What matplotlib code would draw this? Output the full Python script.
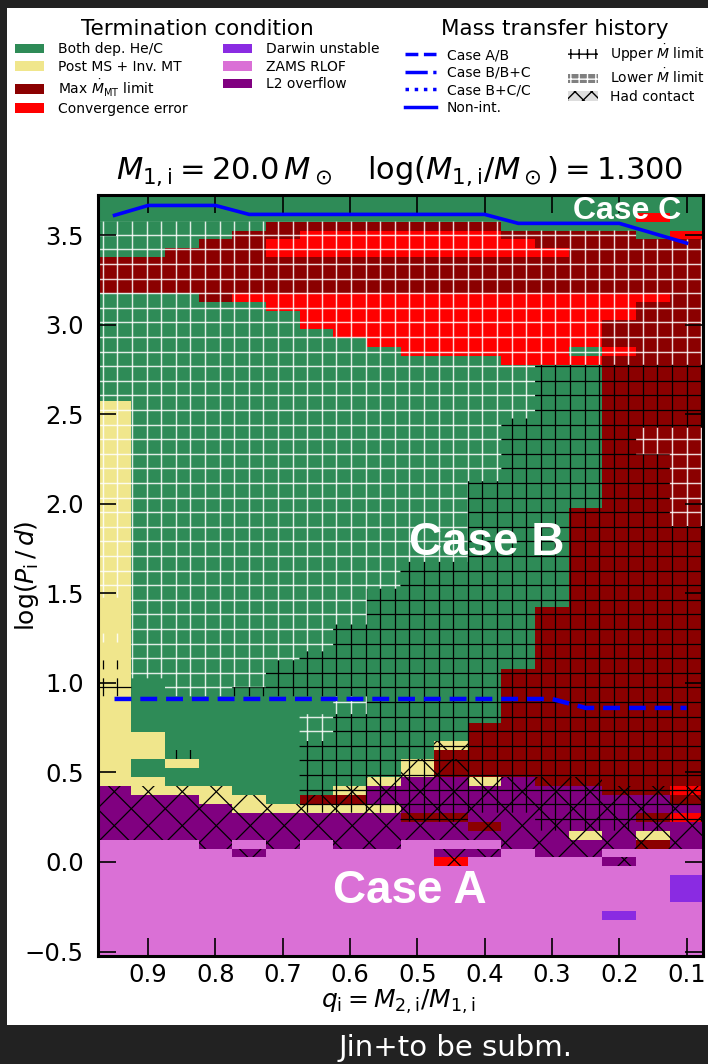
import numpy as np
import matplotlib.pyplot as plt
from matplotlib.colors import ListedColormap, BoundaryNorm
from matplotlib.patches import Patch, Rectangle
from matplotlib.lines import Line2D
from matplotlib.path import Path
from matplotlib.collections import LineCollection
from matplotlib.transforms import IdentityTransform

# grid columns (mass ratio, left to right on the inverted axis) and rows (log period, top to bottom)
q_vals = np.array([0.95, 0.90, 0.85, 0.80, 0.75, 0.70, 0.65, 0.60, 0.55,
                   0.50, 0.45, 0.40, 0.35, 0.30, 0.25, 0.20, 0.15, 0.10])
logp_vals = np.round(np.linspace(3.70, -0.50, 85), 2)

# termination condition per cell
# G both dep. He/C, Y post MS + inv. MT, D max Mdot, R convergence error,
# V Darwin unstable, P ZAMS RLOF, U L2 overflow
term_codes = 'GYDRVPU'
term_rows = (
    ['GGGGGGGGGGGGGGGGGG',   # 3.70
     'GGGGGGGGGGGGGGGGGG',   # 3.65
     'GGGGGGGGGGGGGGGGRG',   # 3.60
     'GGGGGDDDDDDDGGGGGG',   # 3.55
     'GGGGDDRRRRRRDDDDGR',   # 3.50
     'GGGDDRRRRRRRRDDDDD',   # 3.45
     'GGDDDRRRRRRRRRDDDD']   # 3.40
    + ['DDDDDDDDDDDDDDDDDD'] * 4   # 3.35 - 3.20
    + ['GGGDRRRRRRRRRRRRRD',   # 3.15
       'GGGGGRRRRRRRRRRRDD',   # 3.10
       'GGGGGGRRRRRRRRRRDD',   # 3.05
       'GGGGGGRRRRRRRRRDDD',   # 3.00
       'GGGGGGGRRRRRRRRDDD',   # 2.95
       'GGGGGGGGRRRRRRRDDD',   # 2.90
       'GGGGGGGGGRRRRRGRDD',   # 2.85
       'GGGGGGGGGGGGRRRDDD']   # 2.80
    + ['GGGGGGGGGGGGGGGDDD'] * 4    # 2.75 - 2.60
    + ['YGGGGGGGGGGGGGGDDD'] * 12   # 2.55 - 2.00
    + ['YGGGGGGGGGGGGGDDDD'] * 11   # 1.95 - 1.45
    + ['YGGGGGGGGGGGGDDDDD'] * 7    # 1.40 - 1.10
    + ['YGGGGGGGGGGGDDDDDD'] * 6    # 1.05 - 0.80
    + ['YGGGGGGGGGGDDDDDDD',   # 0.75
       'YYGGGGGGGGGDDDDDDD',   # 0.70
       'YYGGGGGGGGYDDDDDDD',   # 0.65
       'YYGGGGGGGGDDDDDDDD',   # 0.60
       'YGYGGGGGGYDDDDDDDD',   # 0.55
       'YGGGGGGGGYDDDDDDDD',   # 0.50
       'YYGGGGGGYUUYUDDDDD',   # 0.45
       'UYYYGGGYUUUUUUUDDR',   # 0.40
       'UUUYYGDDUUUUUUUUUD',   # 0.35
       'UUUUYYYYYUUUUUUUUU',   # 0.30
       'UUUUUUUUUDDUUUUUDR',   # 0.25
       'UUUUUUUUUUUDUUUUUU',   # 0.20
       'UUUUUUUUUUUUUUYUYU',   # 0.15
       'PPPUPUPUUPPPUUUUDU',   # 0.10
       'PPPPUPPPPPUUPUUPPP',   # 0.05
       'PPPPPPPPPPRPPPPUPP',   # 0.00
       'PPPPPPPPPPPPPPPPPP']   # -0.05
    + ['PPPPPPPPPPPPPPPPPV'] * 3    # -0.10 - -0.20
    + ['PPPPPPPPPPPPPPPPPP',   # -0.25
       'PPPPPPPPPPPPPPPVPP']   # -0.30
    + ['PPPPPPPPPPPPPPPPPP'] * 4    # -0.35 - -0.50
)

# Mdot flag per cell: w lower limit (white cross), b upper limit (black cross)
mdot_rows = (
    ['..................'] * 3                       # 3.70 - 3.60
    + ['wwwwwwwwwwww......',                         # 3.55
       'wwwwwwwwwwwwwwww..']                         # 3.50
    + ['wwwwwwwwwwwwwwwwww'] * 14                    # 3.45 - 2.80
    + ['wwwwwwwwwwwwwbbbbb'] * 6                     # 2.75 - 2.50
    + ['wwwwwwwwwwwwbbbbbb']                         # 2.45
    + ['wwwwwwwwwwwwbbbbww'] * 3                     # 2.40 - 2.30
    + ['wwwwwwwwwwwwbbbbbw'] * 3                     # 2.25 - 2.15
    + ['wwwwwwwwwwwbbbbbbw'] * 5                     # 2.10 - 1.90
    + ['wwwwwwwwwwwbbbbbbb'] * 4                     # 1.85 - 1.70
    + ['wwwwwwwwwbbbbbbbbb'] * 3                     # 1.65 - 1.55
    + ['wwwwwwwwbbbbbbbbbb']                         # 1.50
    + ['.wwwwwwwbbbbbbbbbb'] * 3                     # 1.45 - 1.35
    + ['.wwwwwwbbbbbbbbbbb',                         # 1.30
       'wwwwwwwbbbbbbbbbbb',                         # 1.25
       '.wwwwwwbbbbbbbbbbb',                         # 1.20
       '.wwwwwbbbbbbbbbbbb',                         # 1.15
       'bwwwwbbbbbbbbbbbbb',                         # 1.10
       '.wwwwbbbbbbbbbbbbb',                         # 1.05
       'b.wwwbbbbbbbbbbbbb',                         # 1.00
       'b.wwbbbbbbbbbbbbbb']                         # 0.95
    + ['.......wbbbbbbbbbb'] * 2                     # 0.90 - 0.85
    + ['......wbbbbbbbbbbb'] * 3                     # 0.80 - 0.70
    + ['......bbbbbbbbbbbb',                         # 0.65
       '..b...bbbbbbbbbbbb']                         # 0.60
    + ['......bbbbbbbbbbbb'] * 6                     # 0.55 - 0.30
    + ['.........bb..bbbbb',                         # 0.25
       '.............bbbb.']                         # 0.20
    + ['..................'] * 14                    # 0.15 - -0.50
)

# had contact flag per cell
contact_rows = (
    ['..................'] * 61                      # 3.70 - 0.70
    + ['..........x.......',                         # 0.65
       '..................',                         # 0.60
       '.........xx.......',                         # 0.55
       '.........xx.......',                         # 0.50
       '........xxxxxxx...',                         # 0.45
       'xxxx...xxxxxxxxxxx',                         # 0.40
       'xxxxx.xxxxxxxxxxxx']                         # 0.35
    + ['xxxxxxxxxxxxxxxxxx'] * 4                     # 0.30 - 0.15
    + ['...x.x.xx...xxxxxx',                         # 0.10
       '....x.....xx.xx...',                         # 0.05
       '..........x....x..']                         # 0.00
    + ['..................'] * 10                    # -0.05 - -0.50
)

# mass transfer boundaries
nonint_q = [0.95, 0.90, 0.85, 0.80, 0.75, 0.70, 0.65, 0.60, 0.55,
            0.50, 0.45, 0.40, 0.35, 0.30, 0.25, 0.20, 0.15, 0.10]
nonint_logp = [3.61, 3.665, 3.665, 3.665, 3.615, 3.615, 3.615, 3.615, 3.615,
               3.615, 3.615, 3.615, 3.565, 3.565, 3.565, 3.565, 3.51, 3.455]
caseab_q = nonint_q
caseab_logp = [0.91, 0.91, 0.91, 0.91, 0.91, 0.91, 0.91, 0.91, 0.91,
               0.91, 0.91, 0.91, 0.91, 0.91, 0.86, 0.86, 0.86, 0.86]

term_colors = ['seagreen', 'khaki', 'darkred', 'red', 'blueviolet', 'orchid', 'purple']
term_labels = ['Both dep. He/C', 'Post MS + Inv. MT', r'Max $\dot{M}_\mathrm{MT}$ limit',
               'Convergence error', 'Darwin unstable', 'ZAMS RLOF', 'L2 overflow']

W, H = 708, 1064
fig = plt.figure(figsize=(W / 100, H / 100), dpi=100, facecolor='#222222')
fig.patches.append(Rectangle((7 / W, 39 / H), 701 / W, 1017 / H, transform=fig.transFigure,
                             facecolor='white', edgecolor='none', zorder=-1))
ax = fig.add_axes([97.7 / W, 108 / H, 605.7 / W, 761.3 / H])

grid = np.array([[term_codes.index(c) for c in row] for row in term_rows])
q_edges = np.append(q_vals + 0.025, q_vals[-1] - 0.025)
p_edges = np.append(logp_vals + 0.025, logp_vals[-1] - 0.025)
ax.pcolormesh(q_edges, p_edges, grid, cmap=ListedColormap(term_colors),
              norm=BoundaryNorm(np.arange(-0.5, 7.5), 7), shading='flat', zorder=0)
ax.set_xlim(0.975, 0.075)
ax.set_ylim(-0.525, 3.725)


def cells_path(rows, flag):
    verts, codes = [], []
    for i, row in enumerate(rows):
        for j, c in enumerate(row):
            if c != flag:
                continue
            x0, x1 = q_vals[j] - 0.025, q_vals[j] + 0.025
            y0, y1 = logp_vals[i] - 0.025, logp_vals[i] + 0.025
            verts += [(x0, y0), (x1, y0), (x1, y1), (x0, y1), (x0, y0)]
            codes += [Path.MOVETO, Path.LINETO, Path.LINETO, Path.LINETO, Path.CLOSEPOLY]
    return Path(verts, codes)


# hatch lattices in pixel space so they stay continuous across cells
bb = ax.bbox
step = 14.6
xs = 117.3 + step * np.arange(-2, 43)
ys = H - (234.7 + step * np.arange(-4, 53))
plus_segs = ([[(x, bb.y0), (x, bb.y1)] for x in xs]
             + [[(bb.x0, y), (bb.x1, y)] for y in ys])
cross_segs = []
for k in range(-40, 40):
    c = 643.4 + 34 * k
    cross_segs.append([(bb.x0, H - bb.x0 - c), (bb.x1, H - bb.x1 - c)])
    d = 940 + 34 * k
    cross_segs.append([(bb.x0, H + bb.x0 - d), (bb.x1, H + bb.x1 - d)])

for segs, rows, flag, color, lw in [(plus_segs, mdot_rows, 'w', (1, 1, 1, 0.85), 1.05),
                                    (plus_segs, mdot_rows, 'b', 'black', 0.9),
                                    (cross_segs, contact_rows, 'x', 'black', 0.9)]:
    lc = LineCollection(segs, colors=color, linewidths=lw, transform=IdentityTransform(), zorder=1)
    ax.add_collection(lc, autolim=False)
    lc.set_clip_path(cells_path(rows, flag), ax.transData)

ax.plot(nonint_q, nonint_logp, color='blue', lw=2.6, zorder=3)
ax.plot(caseab_q, caseab_logp, color='blue', lw=3.2, dashes=(3.8, 2.0), zorder=3)

for x, y, s, fs in [(0.189, 3.587, 'Case C', 23), (0.397, 1.712, 'Case B', 33),
                    (0.5105, -0.230, 'Case A', 33)]:
    ax.text(x, y, s, color='white', fontsize=fs, fontweight='bold', family='Liberation Sans',
            ha='center', va='baseline', zorder=4)

ax.set_xticks([0.9, 0.8, 0.7, 0.6, 0.5, 0.4, 0.3, 0.2, 0.1])
ax.set_yticks([-0.5, 0.0, 0.5, 1.0, 1.5, 2.0, 2.5, 3.0, 3.5])
ax.tick_params(direction='in', top=True, right=True, length=13, width=1.2, labelsize=17.5)
ax.tick_params(axis='y', pad=10)
ax.tick_params(axis='x', pad=5)
for sp in ax.spines.values():
    sp.set_linewidth(2.2)
ax.set_xlabel(r'$q_\mathrm{i} = M_{2,\mathrm{i}}/M_{1,\mathrm{i}}$', fontsize=18)
ax.xaxis.set_label_coords(0.496, -0.042)
ax.set_ylabel(r'$\log(P_\mathrm{i}\,/\,d)$', fontsize=18)
ax.yaxis.set_label_coords(-0.094, 0.5)

fig.text(400 / W, 1 - 171 / H,
         r'$M_{1,\mathrm{i}} = 20.0\,M_\odot \quad \log(M_{1,\mathrm{i}}/M_\odot) = 1.300$',
         fontsize=22, ha='center', va='center')

term_handles = [Patch(facecolor=c, edgecolor='none') for c in term_colors]
fig.legend(term_handles, term_labels, title='Termination condition', loc='upper left',
           bbox_to_anchor=(15 / W, 1 - 19 / H), ncol=2, frameon=False, fontsize=10,
           title_fontsize=15.5, handlelength=2.1, handletextpad=1.0, columnspacing=2.55,
           labelspacing=0.25, borderpad=0, borderaxespad=0)

mt_handles = [Line2D([], [], color='blue', lw=2.5, ls='--'),
              Line2D([], [], color='blue', lw=2.5, ls='-.'),
              Line2D([], [], color='blue', lw=2.5, ls=':'),
              Line2D([], [], color='blue', lw=2.5),
              Patch(facecolor='white', edgecolor='black', hatch='++', lw=0),
              Patch(facecolor='gray', edgecolor='white', hatch='++', lw=0),
              Patch(facecolor='#dddddd', edgecolor='black', hatch='xx', lw=0)]
mt_labels = ['Case A/B', 'Case B/B+C', 'Case B+C/C', 'Non-int.',
             r'Upper $\dot{M}$ limit', r'Lower $\dot{M}$ limit', 'Had contact']
fig.legend(mt_handles, mt_labels, title='Mass transfer history', loc='upper left',
           bbox_to_anchor=(405 / W, 1 - 19 / H), ncol=2, frameon=False, fontsize=10,
           title_fontsize=15.5, handlelength=2.2, handletextpad=0.8, columnspacing=2.7,
           labelspacing=0.25, borderpad=0, borderaxespad=0)

fig.text(456 / W, 1 - 1048 / H, 'Jin+to be subm.', color='white', fontsize=21,
         ha='center', va='center')

fig.savefig('out.png', dpi=100, facecolor=fig.get_facecolor())
